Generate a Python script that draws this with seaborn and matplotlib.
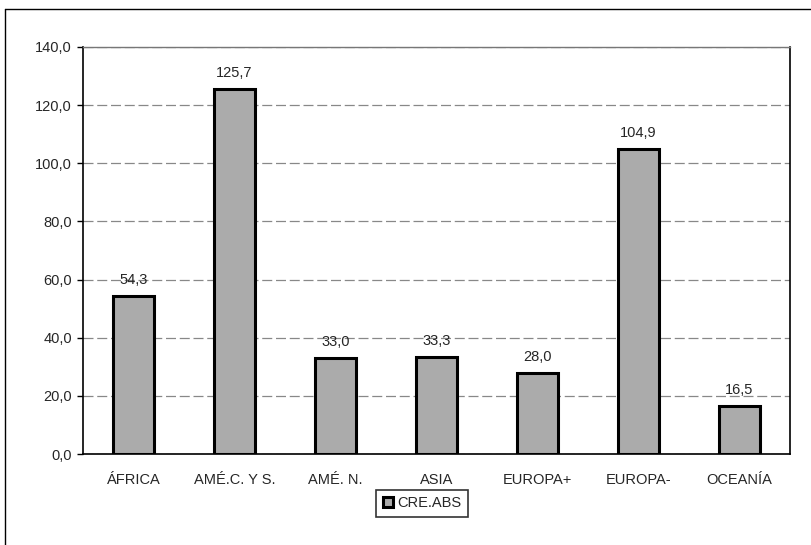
import matplotlib
matplotlib.use("Agg")
import matplotlib.pyplot as plt
import seaborn as sns
import pandas as pd
from matplotlib.lines import Line2D

categories = ["ÁFRICA", "AMÉ.C. Y S.", "AMÉ. N.", "ASIA", "EUROPA+", "EUROPA-", "OCEANÍA"]
values = [54.3, 125.7, 33.0, 33.3, 28.0, 104.9, 16.5]
series_name = "CRE.ABS"
yticks = [0, 20, 40, 60, 80, 100, 120, 140]

sns.set_style("white")
plt.rcParams['font.family'] = ['Liberation Sans', 'DejaVu Sans']

df = pd.DataFrame({"cat": categories, "val": values, "series": series_name})

fig = plt.figure(figsize=(8.11, 5.45), dpi=100)
ax = fig.add_axes([83/811, 1-454/545, (790-83)/811, (454-47)/545])

sns.barplot(data=df, x="cat", y="val", hue="series", ax=ax, width=0.41,
            palette=["#ababab"], edgecolor="black", linewidth=2.2, dodge=False)

ax.set_ylim(0, 140)
ax.set_yticks(yticks)
ax.set_yticklabels([f"{v:.1f}".replace(".", ",") for v in yticks], fontsize=10.5)
ax.set_xlim(-0.5, len(categories) - 0.5)
ax.set_xticks(range(len(categories)))
ax.set_xticklabels(categories, fontsize=10.5)
ax.set_xticks([i + 0.5 for i in range(-1, len(categories))], minor=True)
ax.tick_params(axis='x', which='major', length=0, pad=14)
ax.tick_params(axis='x', which='minor', length=5, width=1, direction='out', color='black')
ax.tick_params(axis='y', length=4, width=1, direction='out', color='black', left=True, pad=4)
ax.set_xlabel("")
ax.set_ylabel("")

ax.grid(axis='y', color='#888888', linewidth=0.9, linestyle=(0, (8, 3)))
ax.set_axisbelow(True)
for s in ["left", "bottom", "right"]:
    ax.spines[s].set_visible(True)
    ax.spines[s].set_color("black")
    ax.spines[s].set_linewidth(1.2)
ax.spines["top"].set_color("#777777")
ax.spines["top"].set_linewidth(1.0)

for i, v in enumerate(values):
    ax.text(i, v + 3, f"{v:.1f}".replace(".", ","), ha='center', va='bottom', fontsize=10.5)

leg = ax.legend(loc='upper center', bbox_to_anchor=(0.48, -0.07), frameon=True, fancybox=False,
                edgecolor='black', fontsize=10.5, handlelength=0.7, handleheight=0.7,
                handletextpad=0.3, borderpad=0.45)
leg.get_frame().set_linewidth(1.2)

fig.add_artist(Line2D([5/811, 1], [1-9/545, 1-9/545], transform=fig.transFigure, color='black', linewidth=1))
fig.add_artist(Line2D([5/811, 5/811], [0, 1-9/545], transform=fig.transFigure, color='black', linewidth=1))

fig.savefig("out.png", dpi=100)
